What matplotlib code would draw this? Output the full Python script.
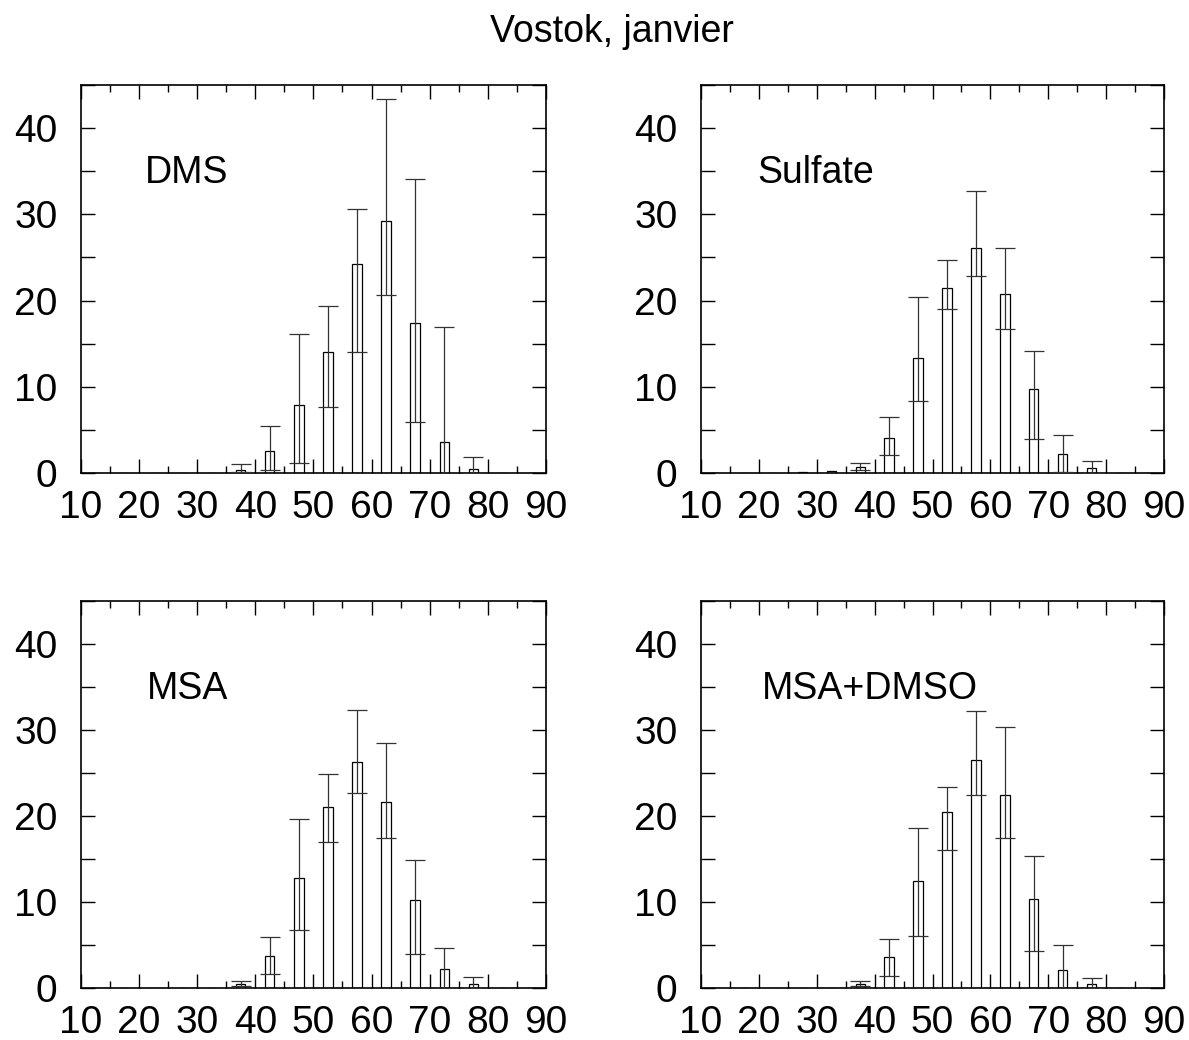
import numpy as np
import matplotlib
matplotlib.use("Agg")
import matplotlib.pyplot as plt
from matplotlib.ticker import MultipleLocator, FuncFormatter

plt.rcParams['font.family'] = ['Liberation Sans', 'DejaVu Sans']

centers = [12.5, 17.5, 22.5, 27.5, 32.5, 37.5, 42.5, 47.5, 52.5, 57.5, 62.5, 67.5, 72.5, 77.5, 82.5, 87.5]
names = ['DMS', 'Sulfate', 'MSA', 'MSA+DMSO']

dms      = [0, 0, 0, 0, 0.05, 0.4, 2.6, 7.9, 14.0, 24.3, 29.2, 17.4, 3.6, 0.5, 0, 0]
dms_hi   = [0, 0, 0, 0, 0.05, 1.0, 5.45, 16.1, 19.4, 30.6, 43.4, 34.1, 16.9, 1.86, 0, 0]
dms_lo   = [0, 0, 0, 0, 0.05, 0.1, 0.3, 1.2, 7.6, 14.0, 20.6, 5.9, -4.0, 0, 0, 0]

sulf     = [0, 0.05, 0.05, 0.1, 0.2, 0.7, 4.06, 13.3, 21.5, 26.1, 20.8, 9.8, 2.2, 0.6, 0, 0]
sulf_hi  = [0, 0.05, 0.05, 0.1, 0.3, 1.16, 6.5, 20.4, 24.7, 32.7, 26.1, 14.2, 4.45, 1.4, 0, 0]
sulf_lo  = [0, 0.05, 0.05, 0.1, 0.1, 0.3, 2.1, 8.4, 19.0, 22.9, 16.75, 3.9, 0.1, 0, 0, 0]

msa      = [0, 0, 0, 0, 0.05, 0.5, 3.76, 12.84, 21.1, 26.3, 21.6, 10.2, 2.2, 0.5, 0, 0]
msa_hi   = [0, 0, 0, 0, 0.05, 0.85, 5.93, 19.7, 24.9, 32.3, 28.5, 14.9, 4.65, 1.28, 0, 0]
msa_lo   = [0, 0, 0, 0, 0.05, 0.23, 1.6, 6.7, 17.0, 22.7, 17.4, 4.0, 0, 0, 0, 0]

md       = [0, 0, 0, 0, 0.05, 0.5, 3.65, 12.5, 20.5, 26.5, 22.5, 10.4, 2.1, 0.5, 0, 0]
md_hi    = [0, 0, 0, 0, 0.05, 0.85, 5.74, 18.6, 23.4, 32.2, 30.4, 15.3, 5.0, 1.16, 0, 0]
md_lo    = [0, 0, 0, 0, 0.05, 0.23, 1.43, 6.05, 16.1, 22.5, 17.5, 4.3, 0, 0, 0, 0]

series = [(dms, dms_lo, dms_hi), (sulf, sulf_lo, sulf_hi),
          (msa, msa_lo, msa_hi), (md, md_lo, md_hi)]

fig = plt.figure(figsize=(11.89, 10.4), dpi=100)
fig.text(0.515, 0.969, 'Vostok, janvier', ha='center', va='center', fontsize=27)

rects = [(0.0681, 0.5452, 0.391, 0.373), (0.5896, 0.5452, 0.3894, 0.373),
         (0.0681, 0.0500, 0.391, 0.372), (0.5896, 0.0500, 0.3894, 0.372)]
label_x = [21.0, 19.7, 21.4, 20.5]

for i, (rect, name, (v, lo, hi)) in enumerate(zip(rects, names, series)):
    ax = fig.add_axes(rect)
    v = np.array(v); lo = np.array(lo); hi = np.array(hi)
    ax.bar(centers, v, width=1.6, facecolor='white', edgecolor='black', linewidth=0.9, zorder=2)
    mask = (hi - lo) > 0.2
    ax.errorbar(np.array(centers)[mask], v[mask], yerr=[v[mask] - lo[mask], hi[mask] - v[mask]],
                fmt='none', ecolor='#333333', elinewidth=0.9, capsize=7, capthick=0.9, zorder=3)
    ax.set_xlim(10, 90)
    ax.set_ylim(0, 45)
    ax.xaxis.set_major_locator(MultipleLocator(10))
    ax.xaxis.set_minor_locator(MultipleLocator(5))
    ax.yaxis.set_major_locator(MultipleLocator(5))
    ax.yaxis.set_major_formatter(FuncFormatter(lambda y, p: '%d' % y if y % 10 == 0 else ''))
    ax.tick_params(axis='both', which='both', direction='in', top=True, right=True, width=1.0)
    ax.tick_params(axis='x', which='major', length=10, labelsize=28, pad=12)
    ax.tick_params(axis='x', which='minor', length=5)
    ax.tick_params(axis='y', which='major', length=10, labelsize=28, pad=17)
    for s in ax.spines.values():
        s.set_linewidth(1.2)
    ax.text(label_x[i], 34.8, name, ha='left', va='center', fontsize=27)

fig.savefig('out.png', dpi=100)
